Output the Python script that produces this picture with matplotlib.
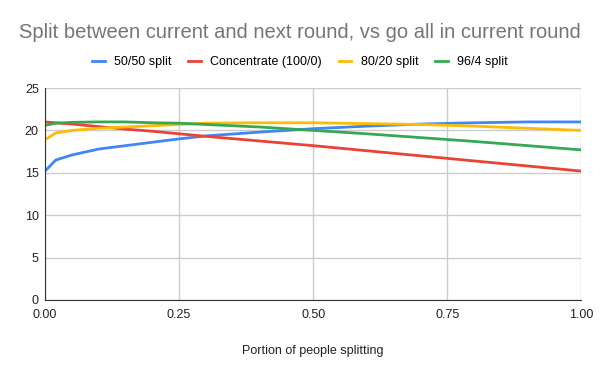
import matplotlib.pyplot as plt

plt.rcParams['font.family'] = ['Liberation Sans', 'DejaVu Sans']

# Data
x_vals = [0.0, 0.02, 0.05, 0.1, 0.15, 0.2, 0.25, 0.3, 0.4, 0.5, 0.6, 0.7, 0.8, 0.9, 1.0]
split_50_50 = [15.2, 16.5, 17.1, 17.8, 18.2, 18.6, 19.0, 19.35, 19.8, 20.2, 20.5, 20.75, 20.9, 21.0, 21.0]
concentrate = [21.0, 20.9, 20.75, 20.45, 20.15, 19.9, 19.6, 19.3, 18.75, 18.2, 17.6, 17.0, 16.4, 15.8, 15.2]
split_80_20 = [18.9, 19.7, 20.0, 20.25, 20.4, 20.55, 20.7, 20.85, 20.9, 20.9, 20.8, 20.7, 20.5, 20.25, 20.0]
split_96_4 = [20.6, 20.85, 20.95, 21.0, 21.0, 20.9, 20.85, 20.7, 20.4, 20.0, 19.6, 19.15, 18.7, 18.2, 17.7]

series = [
    ('50/50 split', split_50_50, '#4285f4'),
    ('Concentrate (100/0)', concentrate, '#ea4335'),
    ('80/20 split', split_80_20, '#fbbc04'),
    ('96/4 split', split_96_4, '#34a853'),
]

fig = plt.figure(figsize=(6, 3.71), dpi=100)
ax = fig.add_axes([0.075, 0.1914, 0.894, 0.5714])

for name, vals, col in series:
    ax.plot(x_vals, vals, color=col, lw=2, label=name, solid_joinstyle='round')

ax.set_xlim(0, 1)
ax.set_ylim(0, 25)
ax.set_xticks([0, 0.25, 0.5, 0.75, 1.0])
ax.set_xticklabels(['0.00', '0.25', '0.50', '0.75', '1.00'])
ax.set_yticks([0, 5, 10, 15, 20, 25])
ax.grid(True, color='#cccccc', lw=1)
ax.set_axisbelow(True)
for s in ['top', 'right']:
    ax.spines[s].set_visible(False)
for s in ['bottom', 'left']:
    ax.spines[s].set_color('#333333')
ax.tick_params(length=0, labelsize=9, colors='#222222')
ax.tick_params(axis='x', pad=6.5)
ax.tick_params(axis='y', pad=4.5)
ax.set_xlabel('Portion of people splitting', fontsize=9, color='#222222', labelpad=17)

fig.text(0.5, 0.913, 'Split between current and next round, vs go all in current round',
         ha='center', va='center', fontsize=14.5, color='#757575')
fig.legend(loc='center', bbox_to_anchor=(0.5, 0.832), ncol=4, frameon=False, fontsize=9,
           handlelength=1.0, handleheight=0.5, columnspacing=1.35, handletextpad=0.75)

fig.savefig('out.png', dpi=100)
